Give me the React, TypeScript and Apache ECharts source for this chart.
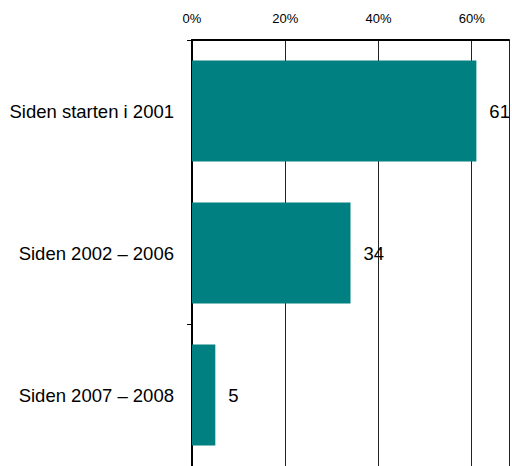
import React, { useEffect, useRef } from "react";
import * as echarts from "echarts";

const categories = ["Siden starten i 2001", "Siden 2002 – 2006", "Siden 2007 – 2008"];
const values = [61, 34, 5];
const axisMin = 0;
const axisMax = 68;
const axisStep = 20;

const FONT = "'Liberation Sans', Arial, sans-serif";

export default function App() {
  const ref = useRef<HTMLDivElement>(null);
  useEffect(() => {
    if (!ref.current) return;
    const chart = echarts.init(ref.current, undefined, { renderer: "svg" });
    chart.setOption({
      animation: false,
      backgroundColor: "#ffffff",
      textStyle: { fontFamily: FONT },
      grid: { left: 192, top: 40, right: 0, bottom: 0, containLabel: false },
      xAxis: {
        type: "value",
        position: "top",
        min: axisMin,
        max: axisMax,
        interval: axisStep,
        axisLine: { show: true, lineStyle: { color: "#000", width: 2 } },
        axisTick: { show: false },
        axisLabel: {
          color: "#000",
          fontSize: 13,
          fontFamily: FONT,
          margin: 15,
          formatter: (v: number) => (v % axisStep === 0 && v < axisMax ? v + "%" : ""),
        },
        splitLine: { show: true, lineStyle: { color: "#222", width: 1 } },
      },
      yAxis: {
        type: "category",
        inverse: true,
        data: categories,
        axisLine: { show: true, lineStyle: { color: "#000", width: 2 } },
        axisTick: {
          show: true,
          length: 5,
          interval: (i: number) => i === 0 || i === 2,
          lineStyle: { color: "#000", width: 1 },
        },
        axisLabel: { color: "#000", fontSize: 18.5, fontFamily: FONT, margin: 18 },
        splitLine: { show: false },
      },
      series: [
        {
          type: "bar",
          data: values,
          barWidth: 101,
          itemStyle: { color: "#008080" },
          label: {
            show: true,
            position: "right",
            distance: 13,
            color: "#000",
            fontSize: 18.5,
            fontFamily: FONT,
          },
        },
      ],
    });
    return () => chart.dispose();
  }, []);
  return (
    <div
      ref={ref}
      style={{ position: "absolute", left: 0, top: 0, width: 512, height: 466 }}
    />
  );
}
